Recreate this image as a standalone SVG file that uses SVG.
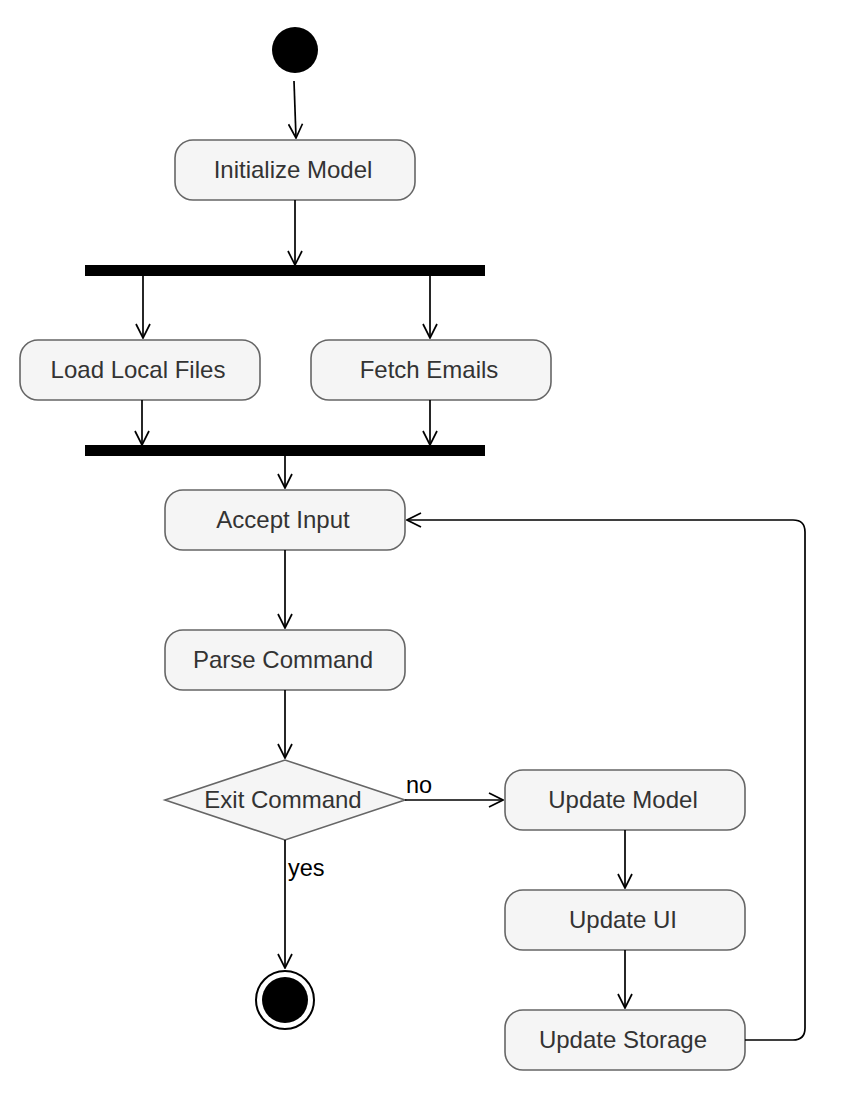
<svg xmlns="http://www.w3.org/2000/svg" width="848" height="1094" viewBox="0 0 848 1094">
<defs>
<style>
.act rect{fill:#f5f5f5;stroke:#666;stroke-width:1.6}
.act text,.dec text{font-family:"Liberation Sans",Arial,sans-serif;font-size:24px;fill:#333;text-anchor:middle}
.dec polygon{fill:#f5f5f5;stroke:#666;stroke-width:1.6}
.lbl{font-family:"Liberation Sans",Arial,sans-serif;font-size:23.5px;fill:#000}
#connectors path{fill:none;stroke:#000;stroke-width:1.7;marker-end:url(#arr)}
</style>
<marker id="arr" viewBox="0 0 16 16" refX="15" refY="8" markerWidth="16" markerHeight="16" markerUnits="userSpaceOnUse" orient="auto">
<path d="M1,1 L15,8 L1,15" fill="none" stroke="#000" stroke-width="1.7"/>
</marker>
</defs>
<rect width="848" height="1094" fill="#fff"/>
<g id="start"><circle cx="295" cy="50" r="23" fill="#000"/></g>
<g id="initModel" class="act"><rect x="175" y="140" width="240" height="60" rx="18"/><text x="293" y="178">Initialize Model</text></g>
<g id="fork"><rect x="85" y="265" width="400" height="11" fill="#000"/></g>
<g id="loadFiles" class="act"><rect x="20" y="340" width="240" height="60" rx="18"/><text x="138" y="378">Load Local Files</text></g>
<g id="fetchEmails" class="act"><rect x="311" y="340" width="240" height="60" rx="18"/><text x="429" y="378">Fetch Emails</text></g>
<g id="join"><rect x="85" y="445" width="400" height="11" fill="#000"/></g>
<g id="acceptInput" class="act"><rect x="165" y="490" width="240" height="60" rx="18"/><text x="283" y="528">Accept Input</text></g>
<g id="parseCommand" class="act"><rect x="165" y="630" width="240" height="60" rx="18"/><text x="283" y="668">Parse Command</text></g>
<g id="exitCommand" class="dec"><polygon points="165,800 285,760 405,800 285,840"/><text x="283" y="808">Exit Command</text></g>
<g id="updateModel" class="act"><rect x="505" y="770" width="240" height="60" rx="18"/><text x="623" y="808">Update Model</text></g>
<g id="updateUI" class="act"><rect x="505" y="890" width="240" height="60" rx="18"/><text x="623" y="928">Update UI</text></g>
<g id="updateStorage" class="act"><rect x="505" y="1010" width="240" height="60" rx="18"/><text x="623" y="1048">Update Storage</text></g>
<g id="end"><circle cx="285" cy="1000" r="29" fill="#fff" stroke="#000" stroke-width="2"/><circle cx="285" cy="1000" r="23" fill="#000"/></g>
<g id="connectors">
<path d="M294,81 L296,138"/>
<path d="M295,200 L295,265"/>
<path d="M143,276 L143,338"/>
<path d="M430,276 L430,338"/>
<path d="M142,400 L142,445"/>
<path d="M430,400 L430,445"/>
<path d="M285,456 L285,488"/>
<path d="M285,550 L285,628"/>
<path d="M285,690 L285,758"/>
<path d="M285,840 L285,968"/>
<path d="M405,800 L503,800"/>
<path d="M625,830 L625,888"/>
<path d="M625,950 L625,1008"/>
<path d="M745,1040 L793,1040 Q805,1040 805,1028 L805,532 Q805,520 793,520 L407,520"/>
</g>
<text class="lbl" x="288" y="876">yes</text>
<text class="lbl" x="406" y="793">no</text>
</svg>
